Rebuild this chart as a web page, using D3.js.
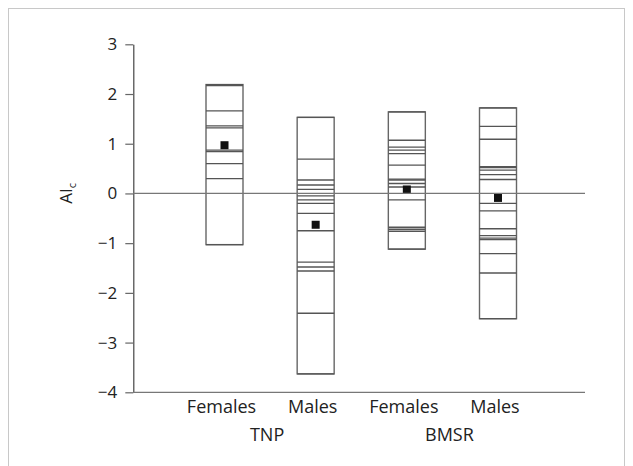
<!DOCTYPE html>
<html>
<head>
<meta charset="utf-8">
<script src="https://cdn.jsdelivr.net/npm/d3@7"></script>
<style>
  body { margin: 0; background: #fff; }
  text { font-family: "Open Sans", "Noto Sans", sans-serif; fill: #222; }
</style>
</head>
<body>
<div class="board"></div>
<script>
// data
let groups = ['TNP Females', 'TNP Males', 'BMSR Females', 'BMSR Males'];
let sexLabels = ['Females', 'Males', 'Females', 'Males'];
let siteLabels = ['TNP', 'BMSR'];
let yTicks = [3, 2, 1, 0, -1, -2, -3, -4];

let tnpFemales = [2.19, 2.17, 1.66, 1.36, 1.32, 0.87, 0.84, 0.60, 0.30, -1.03];
let tnpMales = [1.53, 0.69, 0.27, 0.17, 0.08, -0.05, -0.13, -0.20, -0.40, -0.75, -1.38, -1.48, -1.56, -2.41, -3.63];
let bmsrFemales = [1.64, 1.07, 0.93, 0.87, 0.80, 0.57, 0.29, 0.27, 0.20, 0.13, -0.13, -0.68, -0.72, -0.76, -1.12];
let bmsrMales = [1.72, 1.35, 1.09, 0.54, 0.52, 0.47, 0.38, 0.28, -0.20, -0.35, -0.71, -0.85, -0.90, -0.93, -1.21, -1.60, -2.52];
let means = [0.97, -0.63, 0.08, -0.09];

let values = [tnpFemales, tnpMales, bmsrFemales, bmsrMales];

let width = 633, height = 466;
let boxW = 37;

let svg = d3.select('.board').append('svg')
    .attr('width', width)
    .attr('height', height);

// outer frame
svg.append('rect')
    .attr('x', 8.5).attr('y', 8.5)
    .attr('width', 616).attr('height', 470)
    .attr('fill', 'none')
    .attr('stroke', '#c8c8c8')
    .attr('stroke-width', 1);

let y = d3.scaleLinear().domain([-4, 3]).range([392.3, 44.3]);
let x = d3.scalePoint().domain(groups).range([224.5, 498]);
let xLeft = 133.3, xRight = 585;

/////// AXES ///////////////////////////////////////

let yAxis = svg.append('g')
    .attr('transform', `translate(${xLeft},0)`)
    .call(d3.axisLeft(y).tickValues(yTicks).tickFormat(d3.format('d'))
        .tickSize(8).tickSizeOuter(0).tickPadding(8));
yAxis.select('.domain').attr('stroke', '#444').attr('stroke-width', 1.2);
yAxis.selectAll('.tick line').attr('stroke', '#666').attr('stroke-width', 1.2);
yAxis.selectAll('.tick text').attr('font-size', 17).attr('fill', '#222')
    .style('font-family', '"Open Sans", "Noto Sans", sans-serif');

// bottom line
svg.append('line')
    .attr('x1', xLeft).attr('x2', xRight)
    .attr('y1', y(-4)).attr('y2', y(-4))
    .attr('stroke', '#777').attr('stroke-width', 1.2);

// y label AI_c
let yLabel = svg.append('text')
    .attr('transform', `translate(72,${y(0)}) rotate(-90)`)
    .attr('text-anchor', 'middle')
    .attr('font-size', 17);
yLabel.append('tspan').text('AI');
yLabel.append('tspan').attr('font-size', 11).attr('dy', 4).text('c');

/////// BOXES ///////////////////////////////////////

let box = svg.selectAll('g.box')
    .data(groups.map((g, i) => ({ g: g, vals: values[i], mean: means[i] })))
    .enter().append('g')
    .classed('box', true);

box.append('rect')
    .attr('x', d => x(d.g) - boxW / 2)
    .attr('y', d => y(d3.max(d.vals)))
    .attr('width', boxW)
    .attr('height', d => y(d3.min(d.vals)) - y(d3.max(d.vals)))
    .attr('fill', '#fff')
    .attr('stroke', '#666')
    .attr('stroke-width', 1.4);

box.each(function(d) {
    d3.select(this).selectAll('line')
        .data(d.vals)
        .enter().append('line')
        .attr('x1', x(d.g) - boxW / 2).attr('x2', x(d.g) + boxW / 2)
        .attr('y1', v => y(v)).attr('y2', v => y(v))
        .attr('stroke', '#555')
        .attr('stroke-width', 1.3);
});

// the zero line shows through the boxes
svg.append('line')
    .attr('x1', xLeft).attr('x2', xRight)
    .attr('y1', y(0)).attr('y2', y(0))
    .attr('stroke', '#777').attr('stroke-width', 1.3);

box.append('rect')
    .attr('x', d => x(d.g) - 4)
    .attr('y', d => y(d.mean) - 4)
    .attr('width', 8).attr('height', 8)
    .attr('fill', '#111');

/////// LABELS ///////////////////////////////////////

svg.selectAll('text.sex')
    .data(groups)
    .enter().append('text')
    .classed('sex', true)
    .attr('x', (g) => x(g) - 3)
    .attr('y', 413)
    .attr('text-anchor', 'middle')
    .attr('font-size', 18)
    .text((g, i) => sexLabels[i]);

svg.selectAll('text.site')
    .data(siteLabels)
    .enter().append('text')
    .classed('site', true)
    .attr('x', (s, i) => (x(groups[i * 2]) + x(groups[i * 2 + 1])) / 2 - 3)
    .attr('y', 441)
    .attr('text-anchor', 'middle')
    .attr('font-size', 18)
    .text(s => s);
</script>
</body>
</html>
